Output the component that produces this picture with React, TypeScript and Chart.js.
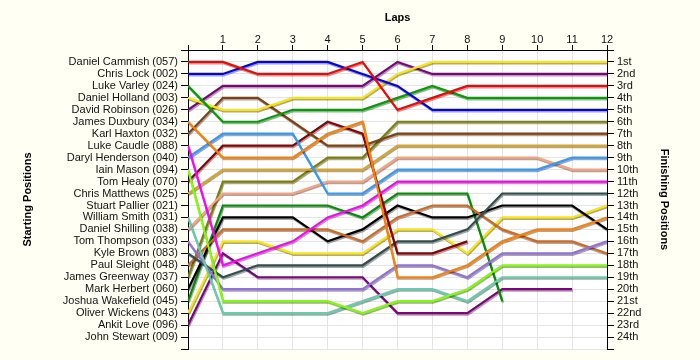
import React, { useEffect, useRef } from 'react';
import { Chart, registerables } from 'chart.js';

Chart.register(...registerables);

// Laps (x) and positions (y)
const LAPS = [0, 1, 2, 3, 4, 5, 6, 7, 8, 9, 10, 11, 12];
const POSITION_TICKS = [0, 1, 2, 3, 4, 5, 6, 7, 8, 9, 10, 11, 12, 13, 14, 15, 16, 17, 18, 19, 20, 21, 22, 23, 24, 25];

const STARTERS = [
  'Daniel Cammish (057)', 'Chris Lock (002)', 'Luke Varley (024)', 'Daniel Holland (003)',
  'David Robinson (026)', 'James Duxbury (034)', 'Karl Haxton (032)', 'Luke Caudle (088)',
  'Daryl Henderson (040)', 'Iain Mason (094)', 'Tom Healy (070)', 'Chris Matthews (025)',
  'Stuart Pallier (021)', 'William Smith (031)', 'Daniel Shilling (038)', 'Tom Thompson (033)',
  'Kyle Brown (083)', 'Paul Sleight (048)', 'James Greenway (037)', 'Mark Herbert (060)',
  'Joshua Wakefield (045)', 'Oliver Wickens (043)', 'Ankit Love (096)', 'John Stewart (009)',
];

const FINISH_LABELS = [
  '1st', '2nd', '3rd', '4th', '5th', '6th', '7th', '8th', '9th', '10th', '11th', '12th',
  '13th', '14th', '15th', '16th', '17th', '18th', '19th', '20th', '21st', '22nd', '23rd', '24th',
];

// Position of each driver at laps 0..12
const cammish = [1, 1, 2, 2, 2, 1, 5, 4, 3, 3, 3, 3, 3];
const lock = [2, 2, 1, 1, 1, 2, 3, 5, 5, 5, 5, 5, 5];
const varley = [3, 6, 6, 5, 5, 5, 4, 3, 4, 4, 4, 4, 4];
const holland = [4, 5, 5, 4, 4, 4, 2, 1, 1, 1, 1, 1, 1];
const robinson = [5, 3, 3, 3, 3, 3, 1, 2, 2, 2, 2, 2, 2];
const duxbury = [6, 9, 9, 9, 7, 6, 19, 19, 18, 16, 15, 15, 14];
const haxton = [7, 4, 4, 6, 8, 8, 7, 7, 7, 7, 7, 7, 7];
const caudle = [8, 18, 17, 16, 14, 13, 11, 11, 11, 11, 11, 11, 11];
const henderson = [9, 7, 7, 7, 12, 12, 10, 10, 10, 10, 10, 9, 9];
const mason = [10, 21, 21, 21, 21, 22, 21, 21, 20, 18, 18, 18, 18];
const healy = [11, 8, 8, 8, 6, 7, 17, 17, 16];
const matthews = [12, 10, 10, 10, 10, 10, 8, 8, 8, 8, 8, 8, 8];
const smith = [14, 22, 22, 22, 22, 21, 20, 20, 21, 19, 19, 19, 19];
const shilling = [15, 12, 12, 12, 11, 11, 9, 9, 9, 9, 9, 10, 10];
const thompson = [16, 20, 20, 20, 20, 20, 18, 18, 19, 17, 17, 17, 16];
const kbrown = [17, 19, 18, 18, 18, 18, 16, 16, 15, 12, 12, 12, 12];
const sleight = [18, 15, 15, 15, 15, 16, 14, 13, 13, 15, 16, 16, 17];
const greenway = [19, 11, 11, 11, 9, 9, 6, 6, 6, 6, 6, 6, 6];
const herbert = [20, 14, 14, 14, 16, 15, 13, 14, 14, 13, 13, 13, 15];
const wakefield = [21, 13, 13, 13, 13, 14, 12, 12, 12, 21];
const wickens = [22, 16, 16, 17, 17, 17, 15, 15, 17, 14, 14, 14, 13];
const love = [23, 17, 19, 19, 19, 19, 22, 22, 22, 20, 20, 20];

const SERIES = [
  { label: STARTERS[0], color: '#FF0000', data: cammish },
  { label: STARTERS[1], color: '#0000EE', data: lock },
  { label: STARTERS[2], color: '#00A000', data: varley },
  { label: STARTERS[3], color: '#FFE600', data: holland },
  { label: STARTERS[4], color: '#800080', data: robinson },
  { label: STARTERS[5], color: '#FF8000', data: duxbury },
  { label: STARTERS[6], color: '#804010', data: haxton },
  { label: STARTERS[7], color: '#FF00FF', data: caudle },
  { label: STARTERS[8], color: '#3399FF', data: henderson },
  { label: STARTERS[9], color: '#80FF00', data: mason },
  { label: STARTERS[10], color: '#8B0000', data: healy },
  { label: STARTERS[11], color: '#DAA520', data: matthews },
  { label: STARTERS[13], color: '#66CDAA', data: smith },
  { label: STARTERS[14], color: '#FFA07A', data: shilling },
  { label: STARTERS[15], color: '#9370DB', data: thompson },
  { label: STARTERS[16], color: '#2F4F4F', data: kbrown },
  { label: STARTERS[17], color: '#D2691E', data: sleight },
  { label: STARTERS[18], color: '#808000', data: greenway },
  { label: STARTERS[19], color: '#000000', data: herbert },
  { label: STARTERS[20], color: '#009000', data: wakefield },
  { label: STARTERS[21], color: '#FFE600', data: wickens },
  { label: STARTERS[22], color: '#800080', data: love },
];

const FONT = "'Liberation Sans', Arial, sans-serif";
const GRID = '#E4E4E4';

const bgPlugin = {
  id: 'bgPlugin',
  beforeDraw(chart: any) {
    const { ctx, chartArea: a, width, height } = chart;
    ctx.save();
    ctx.fillStyle = '#FFFFF4';
    ctx.fillRect(0, 0, width, height);
    ctx.fillStyle = '#FFFFFF';
    ctx.fillRect(a.left, a.top, a.right - a.left, a.bottom - a.top);
    ctx.restore();
  },
};

const shadowPlugin = {
  id: 'shadowPlugin',
  beforeDatasetsDraw(chart: any) {
    const ctx = chart.ctx;
    ctx.save();
    ctx.shadowColor = 'rgba(0,0,0,0.35)';
    ctx.shadowOffsetX = 0.8;
    ctx.shadowOffsetY = 1.5;
    ctx.shadowBlur = 0;
  },
  afterDatasetsDraw(chart: any) {
    chart.ctx.restore();
  },
};

export default function App() {
  const ref = useRef<HTMLCanvasElement | null>(null);

  useEffect(() => {
    if (!ref.current) return;
    const gridColor = (c: any) => {
      const v = c.tick ? c.tick.value : null;
      return v === 0 ? 'rgba(0,0,0,0)' : GRID;
    };
    const chart = new Chart(ref.current, {
      type: 'line',
      data: {
        labels: LAPS,
        datasets: SERIES.map((s) => ({
          label: s.label,
          data: s.data,
          borderColor: s.color,
          backgroundColor: s.color,
          borderWidth: 2.2,
          pointRadius: 0,
          pointHoverRadius: 0,
          tension: 0,
          fill: false,
          xAxisID: 'x',
          yAxisID: 'y',
        })),
      },
      options: {
        animation: false,
        responsive: false,
        maintainAspectRatio: false,
        layout: { padding: { left: 0, right: 0, top: 0, bottom: 11 } },
        plugins: { legend: { display: false }, tooltip: { enabled: false } },
        scales: {
          x: {
            type: 'linear',
            position: 'top',
            min: 0,
            max: 12,
            afterBuildTicks: (s: any) => { s.ticks = LAPS.map((v) => ({ value: v })); },
            afterFit: (s: any) => { s.height = 50; },
            ticks: {
              autoSkip: false,
              maxRotation: 0,
              padding: 0,
              color: '#111',
              font: { family: FONT, size: 11, lineHeight: 1 },
              callback: (v: any) => (v === 0 ? '' : String(v)),
            },
            grid: { color: gridColor, tickColor: '#000', tickLength: 5, lineWidth: 1 },
            border: { display: true, color: '#000', width: 1 },
            title: {
              display: true,
              text: 'Laps',
              color: '#000',
              font: { family: FONT, size: 11, weight: 'bold' },
              padding: { top: 11, bottom: 0 },
            },
          },
          y: {
            type: 'linear',
            position: 'left',
            min: 0,
            max: 25,
            reverse: true,
            afterBuildTicks: (s: any) => { s.ticks = POSITION_TICKS.map((v) => ({ value: v })); },
            afterFit: (s: any) => { s.width = 188; },
            ticks: {
              autoSkip: false,
              padding: 3,
              color: '#111',
              font: { family: FONT, size: 11, lineHeight: 1 },
              callback: (v: any) => STARTERS[v - 1] ?? '',
            },
            grid: { color: gridColor, tickColor: '#000', tickLength: 7, lineWidth: 1 },
            border: { display: true, color: '#000', width: 1 },
            title: {
              display: true,
              text: 'Starting Positions',
              color: '#000',
              font: { family: FONT, size: 11, weight: 'bold' },
              padding: { top: 21, bottom: 0 },
            },
          },
          y2: {
            type: 'linear',
            position: 'right',
            min: 0,
            max: 25,
            reverse: true,
            afterBuildTicks: (s: any) => { s.ticks = POSITION_TICKS.map((v) => ({ value: v })); },
            afterFit: (s: any) => { s.width = 93; },
            ticks: {
              autoSkip: false,
              padding: 3,
              color: '#111',
              font: { family: FONT, size: 11, lineHeight: 1 },
              callback: (v: any) => FINISH_LABELS[v - 1] ?? '',
            },
            grid: { drawOnChartArea: false, color: '#000', tickColor: '#000', tickLength: 7 },
            border: { display: true, color: '#000', width: 1 },
            title: {
              display: true,
              text: 'Finishing Positions',
              color: '#000',
              font: { family: FONT, size: 11, weight: 'bold' },
              padding: { top: 29, bottom: 0 },
            },
          },
        },
      } as any,
      plugins: [bgPlugin, shadowPlugin],
    });
    return () => chart.destroy();
  }, []);

  return (
    <div style={{ position: 'fixed', left: 0, top: 0, width: 700, height: 360 }}>
      <canvas ref={ref} width={700} height={360} />
    </div>
  );
}
